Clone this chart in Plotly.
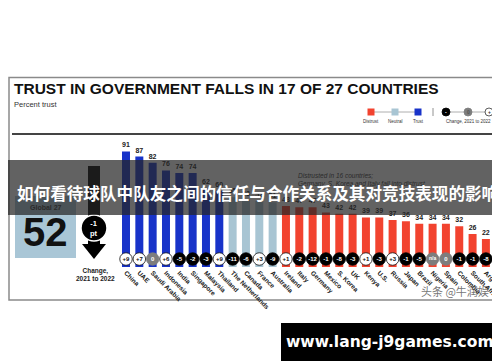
import plotly.graph_objects as go

# ---------------- data ----------------
countries = ["China", "UAE", "Saudi Arabia", "Indonesia", "India", "Singapore", "Malaysia",
             "Thailand", "The Netherlands", "Canada", "France", "Australia", "Ireland", "Italy",
             "Germany", "Mexico", "S. Korea", "UK", "Kenya", "U.S.", "Russia", "Japan",
             "Brazil", "Nigeria", "Spain", "Colombia", "South Africa", "Argentina"]
trust_values = [91, 87, 82, 76, 74, 74, 62, 60, 55, 53, 52, 51, 48, 47, 47, 43, 42, 42,
                39, 39, 37, 36, 34, 34, 34, 32, 26, 22]
change_labels = ["+9", "+7", "0", "+6", "-5", "-2", "-3", "+9", "-11", "-6", "+3", "-9",
                 "+1", "-2", "-12", "-1", "-8", "-3", "+1", "-3", "+3", "-1", "-5", "n/a",
                 "0", "-1", "-1", "-8"]
global_label = "Global 27"
global_value = 52
global_change = "-1<br>pt"

title = "TRUST IN GOVERNMENT FALLS IN 17 OF 27 COUNTRIES"
subtitle = "Percent trust"
banner_text = "如何看待球队中队友之间的信任与合作关系及其对竞技表现的影响"
site_text = "www.lang-j9games.com"
note_text = "<i>Distrusted in 16 countries;<br>Germany, S. Korea and Italy fall into distrust</i>"

# ---------------- styles ----------------
TRUST_C = "#1833c9"
NEUTRAL_C = "#a8c5d3"
DISTRUST_C = "#f2432f"

W, H = 500, 362
def X(p): return p / W
def Y(p): return 1 - p / H

def level_color(v):
    if v >= 60:
        return TRUST_C
    if v >= 50:
        return NEUTRAL_C
    return DISTRUST_C

bar_colors = [level_color(v) for v in trust_values]

def circ_style(c):
    if c.startswith("+"):
        return "white", "#111", "#111"
    if c.startswith("-"):
        return "#000", "#000", "white"
    return "#7d7d7d", "#7d7d7d", "white"

c_fill = [circ_style(c)[0] for c in change_labels]
c_line = [circ_style(c)[1] for c in change_labels]
c_text = [circ_style(c)[2] for c in change_labels]

FONT = "Liberation Sans, Arial, sans-serif"

fig = go.Figure()
fig.add_trace(go.Bar(
    x=countries, y=trust_values, marker=dict(color=bar_colors, line=dict(width=0)),
    width=0.6, text=[str(v) for v in trust_values], textposition="outside",
    textfont=dict(size=7, color="#222", family=FONT, weight="bold"),
    cliponaxis=False, hoverinfo="skip"))

circle_y = [6.3] * len(countries)
fig.add_trace(go.Scatter(
    x=countries, y=circle_y, mode="markers+text",
    marker=dict(size=12.5, color=c_fill, line=dict(color=c_line, width=0.8)),
    text=change_labels, textposition="middle center",
    textfont=dict(size=[5 if c == "n/a" else 6 for c in change_labels], color=c_text,
                  family=FONT, weight="bold"),
    cliponaxis=False, hoverinfo="skip"))

n = len(countries)
step = 13.33
x_start = 118 - step / 2
fig.update_xaxes(domain=[X(x_start), X(x_start + n * step)], range=[-0.5, n - 0.5],
                 showgrid=False, zeroline=False, showline=False, ticks="",
                 tickangle=45, automargin=False,
                 tickfont=dict(size=6.5, color="#222", family=FONT, weight="bold"))
fig.update_yaxes(domain=[Y(259), Y(132)], range=[0, 100], visible=False, automargin=False)

shapes = []
# frame and divider
shapes.append(dict(type="rect", xref="paper", yref="paper", x0=X(1), x1=X(498.5),
                   y0=Y(292), y1=Y(69.5), line=dict(color="#8a8a8a", width=1.5), layer="below"))
shapes.append(dict(type="line", xref="paper", yref="paper", x0=X(4), x1=X(498),
                   y0=Y(126), y1=Y(126), line=dict(color="#444", width=2)))
# global box
shapes.append(dict(type="rect", xref="paper", yref="paper", x0=X(7), x1=X(68),
                   y0=Y(250), y1=Y(188), fillcolor="#a9c6d6", line=dict(width=0)))
# arrow
shapes.append(dict(type="rect", xref="paper", yref="paper", x0=X(80), x1=X(92),
                   y0=Y(238), y1=Y(158), fillcolor="#000", line=dict(width=0)))
shapes.append(dict(type="path", xref="paper", yref="paper",
                   path=f"M {X(74)},{Y(236)} L {X(98)},{Y(236)} L {X(86)},{Y(251)} Z",
                   fillcolor="#000", line=dict(width=0)))
shapes.append(dict(type="circle", xref="paper", yref="paper", x0=X(73), x1=X(99),
                   y0=Y(233), y1=Y(207), fillcolor="#000", line=dict(color="white", width=1.5)))
# legend
shapes.append(dict(type="line", xref="paper", yref="paper", x0=X(363), x1=X(410),
                   y0=Y(104), y1=Y(104), line=dict(color="#999", width=0.8)))
for xc, col in [(363, DISTRUST_C), (387, NEUTRAL_C), (410, TRUST_C)]:
    shapes.append(dict(type="rect", xref="paper", yref="paper", x0=X(xc - 3.5), x1=X(xc + 3.5),
                       y0=Y(107.5), y1=Y(100.5), fillcolor=col, line=dict(width=0)))
shapes.append(dict(type="line", xref="paper", yref="paper", x0=X(425), x1=X(425),
                   y0=Y(108), y1=Y(100), line=dict(color="#777", width=0.8)))
shapes.append(dict(type="line", xref="paper", yref="paper", x0=X(438), x1=X(480),
                   y0=Y(104), y1=Y(104), line=dict(color="#999", width=0.8)))
for xc, col, lc in [(438, "#000", "#000"), (460, "#7d7d7d", "#7d7d7d"), (481, "white", "#333")]:
    shapes.append(dict(type="circle", xref="paper", yref="paper", x0=X(xc - 4), x1=X(xc + 4),
                       y0=Y(108), y1=Y(100), fillcolor=col, line=dict(color=lc, width=0.8)))
# banner overlay
shapes.append(dict(type="rect", xref="paper", yref="paper", x0=0, x1=1,
                   y0=Y(207), y1=Y(152), fillcolor="rgba(38,38,38,0.72)", line=dict(width=0),
                   layer="above"))
# site box
shapes.append(dict(type="rect", xref="paper", yref="paper", x0=X(273), x1=X(491),
                   y0=Y(353), y1=Y(315), fillcolor="#000", line=dict(width=0)))

def ann(text, x, y, size, color="#111", xanchor="center", bold=False, family=FONT, align="center"):
    return dict(text=text, x=X(x), y=Y(y), xref="paper", yref="paper", showarrow=False,
                xanchor=xanchor, yanchor="middle", align=align,
                font=dict(size=size, color=color, family=family,
                          weight="bold" if bold else "normal"))

annotations = [
    ann(title, 4, 80, 15.5, "#111", "left", True),
    ann(subtitle, 4, 96, 7.5, "#333", "left"),
    ann("Distrust", 363, 113, 4.5, "#333"),
    ann("Neutral", 387, 113, 4.5, "#333"),
    ann("Trust", 410, 113, 4.5, "#333"),
    ann("Change, 2021 to 2022", 460, 113, 4.5, "#333"),
    ann("-", 438, 104, 5, "white", bold=True),
    ann("0", 460, 104, 5, "#555", bold=True),
    ann("+", 481, 104, 5, "#333", bold=True),
    ann(global_label, 37.5, 199, 7, "#2a2a2a", bold=True),
    ann(str(global_value), 37.5, 224, 40, "#111", bold=True),
    ann(global_change, 86, 220, 7.5, "white", bold=True),
    ann("Change,<br>2021 to 2022", 87, 266, 6.5, "#222", bold=True),
    ann(note_text, 288, 172, 6.5, "#2b2b2b", "left", align="left"),
    ann(banner_text, 249.5, 185, 16.6, "white", bold=True, family="Noto Sans CJK SC"),
    ann(site_text, 382, 334, 15.5, "white", bold=True, family="DejaVu Sans"),
    ann("头条 @牛润娱", 447, 283, 11, "rgba(70,70,70,0.75)", family="Noto Sans CJK SC"),
]

fig.update_layout(width=W, height=H, margin=dict(l=0, r=0, t=0, b=0),
                  paper_bgcolor="white", plot_bgcolor="white", showlegend=False,
                  shapes=shapes, annotations=annotations, bargap=0.4,
                  uniformtext=dict(minsize=4, mode="show"))

fig.write_html("out.html")
